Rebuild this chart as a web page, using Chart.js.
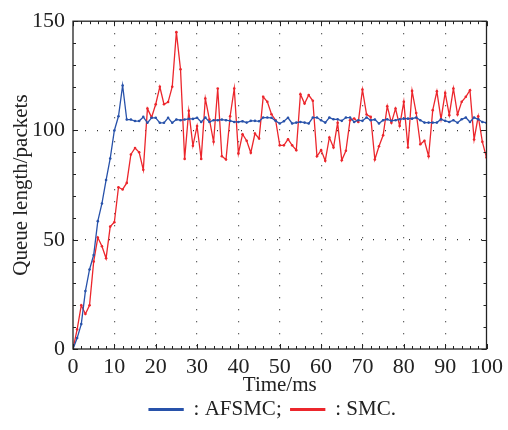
<!DOCTYPE html>
<html lang="en">
<head>
  <meta charset="UTF-8">
  <title>Queue length</title>
  <script src="https://cdn.jsdelivr.net/npm/chart.js"></script>
  <style>
    html, body { margin: 0; padding: 0; background: #fff; }
    #wrap { width: 508px; height: 430px; }
  </style>
</head>
<body>
  <div id="wrap"><canvas id="grafico" width="508" height="430"></canvas></div>

  <script>
    // time axis (ms)
    const timeMs = Array.from({ length: 101 }, (_, i) => i);
    const xTicks = [0, 10, 20, 30, 40, 50, 60, 70, 80, 90, 100];
    const yTicks = [0, 50, 100, 150];

    // queue length
    const afsmc = [
      0, 5, 11.4, 26.5, 36.4, 43, 58.5, 66.6, 77.3, 87.2,
      100, 106.5, 120.6, 105, 105, 104.3, 104.3, 106.2, 103.5, 105.8,
      105.8, 103.5, 103.5, 105.8, 103.5, 105, 104.7, 105, 105.3, 105.3,
      105.8, 103.9, 105.9, 103.9, 104.7, 104.7, 105, 104.7, 104.4, 103.9,
      103.9, 104.2, 103.6, 104.4, 104.4, 104.2, 105.9, 105.9, 105.8, 104.4,
      103.2, 104.2, 105.8, 103.2, 103.6, 103.9, 103.6, 103.2, 105.9, 105.9,
      104.7, 103.6, 105.9, 105.1, 105.1, 104.4, 105.9, 105.9, 103.9, 104.7,
      104.4, 105.9, 104.7, 105, 103.2, 104.7, 105.1, 104.4, 104.7, 105.1,
      105.4, 105.4, 105.4, 105.9, 104.7, 103.6, 103.6, 103.6, 103.6, 105.1,
      104.4, 103.9, 104.7, 103.5, 105.1, 105.9, 103.9, 105.9, 105.1, 103.9,
      103.5
    ];
    const smc = [
      0, 9, 20, 16, 20, 40, 51, 47, 41.5, 56,
      58, 74, 73, 76, 89, 92, 90, 82, 110, 106,
      112, 120, 112, 113, 120, 145, 128, 87, 109, 93,
      102, 87, 114.6, 105, 94.8, 119.2, 88.2, 86.7, 106.5, 119.2,
      89.5, 98.3, 95.3, 89.8, 98.6, 96.3, 115.4, 113.1, 107.4, 104.7,
      93.2, 93.2, 96, 93.2, 91, 116.6, 112.3, 116.2, 113.6, 88.2,
      91, 86.1, 96.8, 92.2, 103.5, 86.4, 90.7, 104.7, 105.5, 103.9,
      118.7, 107.3, 106.2, 86.7, 92.8, 97.8, 111.1, 103.5, 110, 102.1,
      113.1, 92.2, 118.1, 108, 93.7, 95.3, 88.2, 109.3, 117.9, 105.2,
      117.2, 107, 119.2, 107.3, 113.1, 115.4, 118.4, 95.9, 106.5, 94.8,
      87.6
    ];

    const blue = 'rgb(40, 82, 170)';
    const red = 'rgb(236, 38, 44)';
    const serif = '"Liberation Serif", "DejaVu Serif", serif';

    // frame around the plot + small inward ticks
    const frame = {
      id: 'frame',
      beforeDraw(chart) {
        // legend is centred under the plot area, not the canvas
        const lg = chart.legend;
        if (lg && !lg._shifted) {
          lg.left += 28; lg.right += 28;
          lg._shifted = true;
        }
      },
      afterDraw(chart) {
        const { ctx, chartArea: a, scales: { x, y } } = chart;
        ctx.save();
        ctx.strokeStyle = '#222';
        ctx.lineWidth = 1.3;
        ctx.strokeRect(a.left, a.top, a.right - a.left, a.bottom - a.top);
        ctx.lineWidth = 1;
        ctx.beginPath();
        for (let v = 0; v <= 100; v += 2) {
          const px = Math.round(x.getPixelForValue(v)) + 0.5;
          const len = v % 10 === 0 ? 5 : 3;
          ctx.moveTo(px, a.bottom); ctx.lineTo(px, a.bottom - len);
          ctx.moveTo(px, a.top); ctx.lineTo(px, a.top + len);
        }
        for (let v = 0; v <= 150; v += 10) {
          const py = Math.round(y.getPixelForValue(v)) + 0.5;
          const len = v % 50 === 0 ? 5 : 3;
          ctx.moveTo(a.left, py); ctx.lineTo(a.left + len, py);
          ctx.moveTo(a.right, py); ctx.lineTo(a.right - len, py);
        }
        ctx.stroke();
        ctx.restore();
      }
    };

    const ctx = document.getElementById('grafico').getContext('2d');
    new Chart(ctx, {
      type: 'line',
      data: {
        labels: timeMs,
        datasets: [{
          label: ': AFSMC;',
          data: afsmc,
          borderColor: blue,
          backgroundColor: blue,
          borderWidth: 1.3,
          pointRadius: 1.3,
          pointBorderWidth: 0,
          tension: 0
        }, {
          label: ': SMC.',
          data: smc,
          borderColor: red,
          backgroundColor: red,
          borderWidth: 1.3,
          pointRadius: 1.3,
          pointBorderWidth: 0,
          tension: 0
        }]
      },
      options: {
        responsive: false,
        animation: false,
        layout: { padding: { top: 21, right: 19, left: 0, bottom: 0 } },
        plugins: {
          tooltip: { enabled: false },
          legend: {
            position: 'bottom',
            labels: {
              color: '#222',
              font: { family: serif, size: 21 },
              boxWidth: 34,
              boxHeight: 1.5,
              padding: 9
            }
          }
        },
        scales: {
          x: {
            type: 'linear',
            min: 0,
            max: 100,
            afterBuildTicks: s => { s.ticks = xTicks.map(v => ({ value: v })); },
            afterFit: s => { s.height = 41; },
            ticks: { color: '#222', font: { family: serif, size: 22 }, padding: 5, maxRotation: 0 },
            grid: {
              drawTicks: false,
              color: c => (c.tick.value === 0 || c.tick.value === 100) ? 'rgba(0,0,0,0)' : '#333',
              lineWidth: 1.2
            },
            border: { display: false, dash: [1, 11] },
            title: { display: true, text: 'Time/ms', color: '#222', font: { family: serif, size: 21 }, padding: { top: 0, bottom: -8 } }
          },
          y: {
            min: 0,
            max: 150,
            afterBuildTicks: s => { s.ticks = yTicks.map(v => ({ value: v })); },
            afterFit: s => { s.width = 73; },
            ticks: { color: '#222', font: { family: serif, size: 22 }, padding: 8 },
            grid: {
              drawTicks: false,
              color: c => (c.tick.value === 0 || c.tick.value === 150) ? 'rgba(0,0,0,0)' : '#333',
              lineWidth: 1.2
            },
            border: { display: false, dash: [1, 11] },
            title: { display: true, text: 'Queue length/packets', color: '#222', font: { family: serif, size: 21 }, padding: { top: 9, bottom: 0 } }
          }
        }
      },
      plugins: [frame]
    });
  </script>
</body>
</html>
